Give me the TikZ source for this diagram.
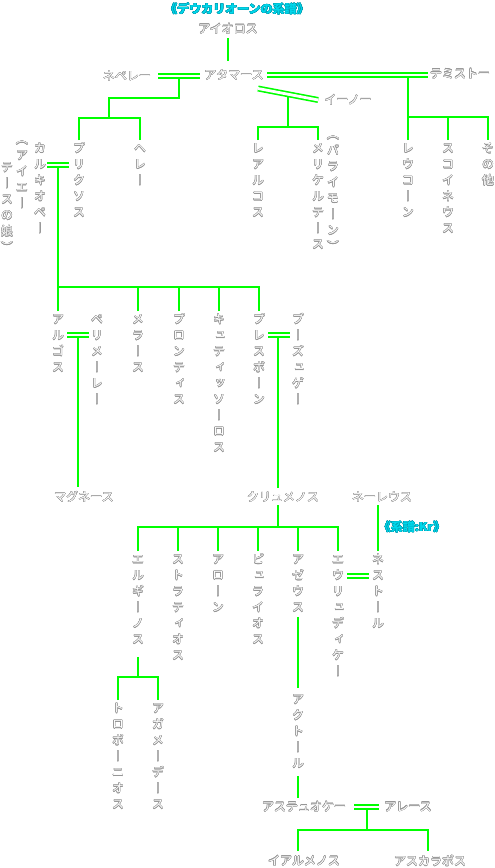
\documentclass[tikz,border=0pt]{standalone}
\usepackage{fontspec}
\setmainfont{Noto Sans CJK JP}
\newfontfamily\tatefont[RawFeature=+vert]{Noto Sans CJK JP}
\usepackage[copies]{contour}
\contourlength{0.35pt}
\contournumber{16}

\definecolor{kgreen}{RGB}{0,255,0}
\definecolor{kcyan}{RGB}{0,215,235}
\definecolor{kteal}{RGB}{0,150,170}
\definecolor{kgray}{RGB}{150,150,150}

% vertical (tategaki) stack, one 16pt cell per character
\newcommand\tate[1]{{\tatefont\vbox{\offinterlineskip\tatecell#1\relax}}}
\newcommand\tatecell[1]{\ifx#1\relax\else\hbox to 12pt{\hss\vrule height12.5pt depth3.5pt width0pt\relax\tatechar#1\hss}\expandafter\tatecell\fi}
\newcommand\tatechar[1]{\ifx#1ー︱\else\ifx#1（︵\else\ifx#1）︶\else#1\fi\fi\fi}
\newcommand\hname[1]{{\color{white}\contour{kgray}{#1}}}
\newcommand\vname[1]{{\color{white}\contour{kgray}{\tate{#1}}}}
\newcommand\tname[1]{{\color{kcyan}\contour{kteal}{#1}}}

\begin{document}
\begin{tikzpicture}[x=1pt,y=-1pt,
  line/.style={draw=kgreen,line width=1.8pt},
  marr/.style={draw=kgreen,double=white,line width=1.6pt,double distance=2.8pt},
  hn/.style={inner sep=0pt,font=\fontsize{12}{14}\selectfont},
  vn/.style={inner sep=0pt,anchor=north,font=\fontsize{12}{14}\selectfont},
  ttl/.style={inner sep=0pt,font=\fontsize{12}{14}\selectfont\bfseries}]
  \fill[white] (0,0) rectangle (495,868);
  \useasboundingbox (0,0) rectangle (495,868);

  % titles
  \node[ttl] (title) at (237,9) {\tname{《デウカリオーンの系譜》}};
  \node[ttl] (krnote) at (412,527) {\tname{《系譜:Kr》}};

  % first generations
  \node[hn] (aiolos) at (228,29) {\hname{アイオロス}};
  \node[hn] (athamas) at (234,75) {\hname{アタマース}};
  \node[hn] (nephele) at (127,76) {\hname{ネペレー}};
  \node[hn] (themisto) at (460,74) {\hname{テミストー}};
  \node[hn] (ino) at (348,100) {\hname{イーノー}};

  \node[vn] (chalkiope) at (40,140) {\vname{カルキオペー}};
  \node[vn] (aietesa) at (22,131) {\vname{（アイエー}};
  \node[vn] (aietesb) at (7,159) {\vname{テースの娘）}};
  \node[vn] (phrixos) at (79,140) {\vname{プリクソス}};
  \node[vn] (helle) at (140,140) {\vname{ヘレー}};
  \node[vn] (learchos) at (258,140) {\vname{レアルコス}};
  \node[vn] (melikertes) at (318,140) {\vname{メリケルテース}};
  \node[vn] (palaimon) at (333,126) {\vname{（パライモーン）}};
  \node[vn] (leukon) at (408,140) {\vname{レウコーン}};
  \node[vn] (schoineus) at (448,140) {\vname{スコイネウス}};
  \node[vn] (sonota) at (488,140) {\vname{その他}};

  % sons of Phrixos
  \node[vn] (argos) at (58,311) {\vname{アルゴス}};
  \node[vn] (perimele) at (97,311) {\vname{ペリメーレー}};
  \node[vn] (melas) at (138,311) {\vname{メラース}};
  \node[vn] (phrontis) at (179,311) {\vname{プロンティス}};
  \node[vn] (kytissoros) at (219,311) {\vname{キュティッソーロス}};
  \node[vn] (presbon) at (259,311) {\vname{プレスボーン}};
  \node[vn] (bouzyge) at (298,311) {\vname{ブーズュゲー}};

  \node[hn] (magnes) at (84,497) {\hname{マグネース}};
  \node[hn] (klymenos) at (283,497) {\hname{クリュメノス}};
  \node[hn] (neleus) at (382,497) {\hname{ネーレウス}};

  % children of Klymenos
  \node[vn] (erginos) at (138,551) {\vname{エルギーノス}};
  \node[vn] (stratios) at (178,551) {\vname{ストラティオス}};
  \node[vn] (alon) at (218,551) {\vname{アローン}};
  \node[vn] (pylaios) at (258,551) {\vname{ピュライオス}};
  \node[vn] (azeus) at (298,551) {\vname{アゼウス}};
  \node[vn] (eurydike) at (338,551) {\vname{エウリュディケー}};
  \node[vn] (nestor) at (378,551) {\vname{ネストール}};

  \node[vn] (trophonios) at (118,700) {\vname{トロポーニオス}};
  \node[vn] (agamedes) at (158,700) {\vname{アガメーデース}};
  \node[vn] (aktor) at (298,691) {\vname{アクトール}};

  \node[hn] (astyoche) at (304,807) {\hname{アステュオケー}};
  \node[hn] (ares) at (408,807) {\hname{アレース}};
  \node[hn] (ialmenos) at (304,861) {\hname{イアルメノス}};
  \node[hn] (askalaphos) at (430,861) {\hname{アスカラポス}};

  % Aiolos -> Athamas
  \draw[line,shorten <=4pt,shorten >=8pt] (aiolos.south) -- (aiolos.south |- athamas.north);
  % Nephele = Athamas
  \draw[marr,shorten <=7pt,shorten >=4pt] (nephele.east) -- (nephele.east -| athamas.west);
  \coordinate (n1) at (179,78.5);
  \draw[line] (n1) |- (109,98) -- (109,118);
  \draw[line] (phrixos.north) -- ++(0,-22) -| (helle.north);
  % Athamas = Themisto
  \draw[marr,shorten <=3pt,shorten >=2pt] (athamas.east) -- (athamas.east -| themisto.west);
  \coordinate (t1) at (408,77.5);
  \draw[line] (t1) -- (leukon.north);
  \draw[line] (leukon.north) -- ++(0,-23) -| (sonota.north);
  \draw[line] (schoineus.north) -- ++(0,-23);
  % Athamas = Ino
  \coordinate (i1) at (258,88.5);
  \draw[marr] (i1) -- ([xshift=-6pt]ino.west);
  \draw[line] (288,96) -- (288,127);
  \draw[line] (learchos.north) -- ++(0,-13) -| (melikertes.north);

  % Chalkiope = Phrixos
  \draw[marr,shorten <=1pt,shorten >=4pt] (chalkiope.east |- 0,165) -- (phrixos.west |- 0,165);
  \draw[line] (58,167.5) -- (argos.north);
  \draw[line] (argos.north) -- ++(0,-24) -| (presbon.north);
  \foreach \n in {melas,phrontis,kytissoros}
    \draw[line] (\n.north) -- ++(0,-24);

  % Argos = Perimele
  \draw[marr,shorten <=3pt,shorten >=2pt] (argos.east |- 0,335) -- (perimele.west |- 0,335);
  \draw[line,shorten >=4pt] (78,337.5) -- (78,0 |- magnes.north);
  % Presbon = Bouzyge
  \draw[marr,shorten <=3pt,shorten >=2pt] (presbon.east |- 0,335) -- (bouzyge.west |- 0,335);
  \draw[line,shorten >=4pt] (278,337.5) -- (278,0 |- klymenos.north);

  % Klymenos
  \draw[line,shorten <=3pt] (278,0 |- klymenos.south) -- (278,527);
  \draw[line] (erginos.north) -- ++(0,-24) -| (eurydike.north);
  \foreach \n in {stratios,alon,pylaios,azeus}
    \draw[line] (\n.north) -- ++(0,-24);
  % Neleus -> Nestor
  \draw[line,shorten <=3pt] (378,0 |- neleus.south) -- (nestor.north);
  % Eurydike = Nestor
  \draw[marr,shorten <=3pt,shorten >=3pt] (eurydike.east |- 0,576) -- (nestor.west |- 0,576);

  % Erginos
  \draw[line,shorten <=9pt] (erginos.south) -- ++(0,30);
  \draw[line] (trophonios.north) -- ++(0,-23) -| (agamedes.north);
  % Azeus -> Aktor -> Astyoche
  \draw[line,shorten <=1pt,shorten >=3pt] (azeus.south) -- (aktor.north);
  \draw[line,shorten <=4pt,shorten >=4pt] (aktor.south) -- (298,0 |- astyoche.north);
  % Astyoche = Ares
  \draw[marr,shorten <=8pt,shorten >=5pt] (astyoche.east) -- (astyoche.east -| ares.west);
  \draw[line] (367,808.5) -- (367,830);
  \draw[line] (298,851) |- (428,830) -- (428,851);
\end{tikzpicture}
\end{document}
